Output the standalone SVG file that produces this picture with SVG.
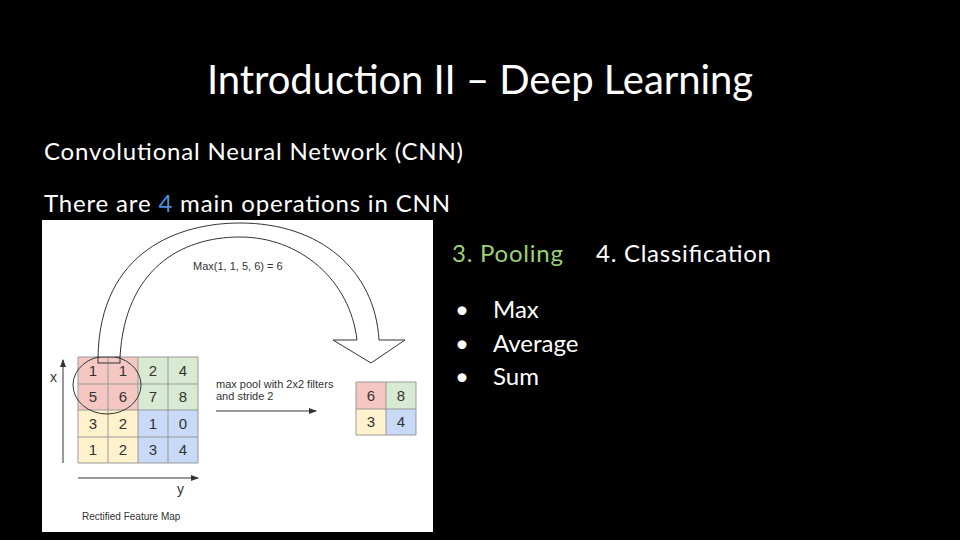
<svg xmlns="http://www.w3.org/2000/svg" width="960" height="540" viewBox="0 0 960 540">
<style>
.t{font-family:Lato,"Open Sans",sans-serif;fill:#fff}
.s{font-family:"Liberation Sans",Arial,sans-serif;fill:#333}
.c{stroke:#999;stroke-width:1}
.n{font-family:"Liberation Sans",Arial,sans-serif;font-size:15px;fill:#333;text-anchor:middle}
</style>
<defs><marker id="a" markerWidth="8" markerHeight="6" refX="7" refY="3" orient="auto"><path d="M0,0L8,3L0,6z" fill="#333"/></marker></defs>
<rect width="960" height="540" fill="#000"/>
<text class="t" x="480" y="94" font-size="40" text-anchor="middle" textLength="546">Introduction II – Deep Learning</text>
<text class="t" x="44" y="160" font-size="24" textLength="419">Convolutional Neural Network (CNN)</text>
<text class="t" x="44" y="212" font-size="24" textLength="406">There are <tspan fill="#4a90d9">4</tspan> main operations in CNN</text>
<text class="t" x="452" y="262" font-size="24" fill="#9bd174" style="fill:#9bd174" textLength="111">3. Pooling</text>
<text class="t" x="596" y="262" font-size="24" textLength="175">4. Classification</text>
<g class="t" font-size="24">
<text x="455" y="318">•</text><text x="493" y="318">Max</text>
<text x="455" y="352">•</text><text x="493" y="352">Average</text>
<text x="455" y="385">•</text><text x="493" y="385">Sum</text>
</g>
<g id="figure">
<rect x="42" y="220" width="391" height="312" fill="#fff"/>
<g id="grid">
<rect x="78" y="357" width="60" height="53" fill="#f4c7c3"/>
<rect x="138" y="357" width="60" height="53" fill="#d9ead3"/>
<rect x="78" y="410" width="60" height="53" fill="#fff2cc"/>
<rect x="138" y="410" width="60" height="53" fill="#c9daf8"/>
<g class="c"><path d="M78,357H198M78,384H198M78,410H198M78,437H198M78,463H198M78,357V463M108,357V463M138,357V463M168,357V463M198,357V463"/></g>
<g class="n">
<text x="93" y="376">1</text><text x="123" y="376">1</text><text x="153" y="376">2</text><text x="183" y="376">4</text>
<text x="93" y="402">5</text><text x="123" y="402">6</text><text x="153" y="402">7</text><text x="183" y="402">8</text>
<text x="93" y="429">3</text><text x="123" y="429">2</text><text x="153" y="429">1</text><text x="183" y="429">0</text>
<text x="93" y="455">1</text><text x="123" y="455">2</text><text x="153" y="455">3</text><text x="183" y="455">4</text>
</g>
<ellipse cx="107" cy="385" rx="34" ry="29" fill="none" stroke="#333"/>
</g>
<g id="out">
<rect x="356" y="382" width="30" height="27" fill="#f4c7c3"/>
<rect x="386" y="382" width="30" height="27" fill="#d9ead3"/>
<rect x="356" y="409" width="30" height="26" fill="#fff2cc"/>
<rect x="386" y="409" width="30" height="26" fill="#c9daf8"/>
<path class="c" d="M356,382H416M356,409H416M356,435H416M356,382V435M386,382V435M416,382V435"/>
<g class="n"><text x="371" y="401">6</text><text x="401" y="401">8</text><text x="371" y="427">3</text><text x="401" y="427">4</text></g>
</g>
<g id="connectors" fill="none" stroke="#333" stroke-width="1">
<path d="M98,357C100,250 180,223 240,223C320,223 375,270 379,340L405,340L371,363L333,340L357,340C350,280 300,237 240,237C180,237 125,270 120,357" fill="#fff"/>
<rect x="98" y="357" width="22" height="6"/>
<line x1="63" y1="463" x2="63" y2="360" marker-end="url(#a)"/>
<line x1="78" y1="478" x2="198" y2="478" marker-end="url(#a)"/>
<line x1="216" y1="411" x2="316" y2="411" marker-end="url(#a)"/>
</g>
<g class="s">
<text x="50" y="382" font-size="14">x</text>
<text x="177" y="494" font-size="14">y</text>
<text x="193" y="270" font-size="11">Max(1, 1, 5, 6) = 6</text>
<text x="216" y="388" font-size="11">max pool with 2x2 filters</text>
<text x="216" y="400" font-size="11">and stride 2</text>
<text x="82" y="520" font-size="10">Rectified Feature Map</text>
</g>
</g>
</svg>
